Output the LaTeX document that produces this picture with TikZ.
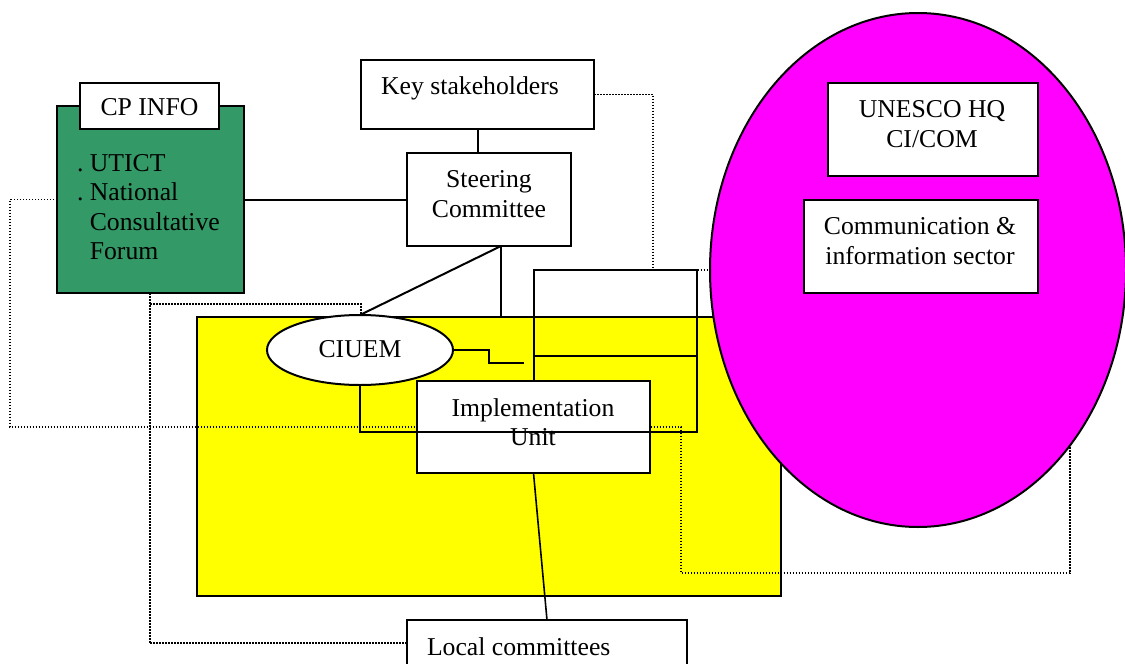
\documentclass[tikz,border=0pt]{standalone}
\usepackage{fontspec}
\setmainfont{Liberation Serif}
\usetikzlibrary{shapes.geometric}
\definecolor{cpgreen}{HTML}{339966}
\definecolor{hqmag}{HTML}{FF00FF}
\definecolor{unityel}{HTML}{FFFF00}
\tikzset{
  boxline/.style={draw=black, line width=2pt},
  whitebox/.style={boxline, rectangle, fill=white, inner sep=0pt, outer sep=0pt},
  lbl/.style={inner sep=0pt, outer sep=0pt, font=\fontsize{25.7}{29.5}\selectfont, align=center},
  conn/.style={draw=black, line width=2pt},
  dotline/.style={draw=black, line width=1.5pt, dash pattern=on 1.5pt off 1.5pt},
}
\begin{document}
\begin{tikzpicture}[x=1pt,y=-1pt]
\useasboundingbox (0,0) rectangle (1125,664);
\fill[white] (0,0) rectangle (1125,664);

% yellow implementation area
\node[boxline, rectangle, fill=unityel, inner sep=0pt, outer sep=0pt,
      minimum width=584pt, minimum height=279pt] (yel) at (489,456.5) {};

% green CP INFO block
\node[boxline, rectangle, fill=cpgreen, inner sep=0pt, outer sep=0pt,
      minimum width=187pt, minimum height=187pt] (cp) at (150.5,199.5) {};

% dotted connectors
\draw[dotline] (cp.west) -- (10,199.5) -- (10,427) -- (681,427) -- (681,573) -- (1070,573) -- (1070,440);
\draw[dotline] (cp.south -| 150,0) -- (150,643) coordinate (lcin);
\draw[dotline] (150,304) -- (361,304) -- (361,317);

% magenta UNESCO ellipse
\node[boxline, ellipse, fill=hqmag, inner sep=0pt, outer sep=0pt,
      minimum width=416pt, minimum height=514pt] (hq) at (918,270) {};

% boxes
\node[whitebox, minimum width=139pt, minimum height=46pt] (cpinfo) at (149.5,106) {};
\node[lbl] (cpinfot) at (149.5,107) {CP INFO};
\node[lbl, align=left, anchor=west] (cptext) at (77,207)
  {.\ UTICT\\.\ National\\\hphantom{.\ }Consultative\\\hphantom{.\ }Forum};

\node[whitebox, minimum width=233pt, minimum height=69pt] (ks) at (477.5,94.5) {};
\node[lbl] (kst) at (470,88) {Key stakeholders};

\node[whitebox, minimum width=164pt, minimum height=93pt] (sc) at (489,199.5) {};
\node[lbl] (sct) at (489,194) {Steering\\Committee};

\node[whitebox, minimum width=210pt, minimum height=93pt] (unesco) at (933,129.5) {};
\node[lbl] (unescot) at (932,124) {UNESCO HQ\\CI/COM};

\node[whitebox, minimum width=234pt, minimum height=93pt] (comm) at (921,246.5) {};
\node[lbl] (commt) at (920,241) {Communication \&\\information sector};

\node[whitebox, minimum width=280pt, minimum height=60pt] (lc) at (547,650) {};
\node[lbl, anchor=west] (lct) at (427,647) {Local committees};

% dotted from key stakeholders and to local committees
\draw[dotline] (ks.east) -- (653,94.5) -- (653,270) -- (hq.west |- 0,270);
\draw[dotline] (lcin) -- (lc.west |- lcin);

% CIUEM ellipse
\node[boxline, ellipse, fill=white, inner sep=0pt, outer sep=0pt,
      minimum width=186pt, minimum height=70pt] (ciuem) at (360,350) {};
\node[lbl] (ciuemt) at (360,349) {CIUEM};

% implementation unit (covers dotted line)
\node[whitebox, minimum width=233pt, minimum height=92pt] (impl) at (533.5,427) {};
\node[lbl] (implt) at (533,422) {Implementation\\Unit};

% solid connectors
\draw[conn] (ks.south) -- (ks.south |- sc.north);
\draw[conn] (cp.east) -- (sc.west);
\coordinate (scb) at (501,246);
\draw[conn] (scb) -- (ciuem.north);
\draw[conn] (scb) -- (scb |- yel.north);
\coordinate (ciuemend) at (524,363);
\draw[conn] (ciuem.east) -- (489,350) -- (489,363) -- (ciuemend);
\draw[conn] (ciuem.south) -- (360,432) -- (697,432) -- (697,270) -- (533.5,270) -- (impl.north);
\draw[conn] (533.5,356) -- (697,356);
\draw[conn, line width=1.6pt] (impl.south) -- (lc.north);
\end{tikzpicture}
\end{document}
